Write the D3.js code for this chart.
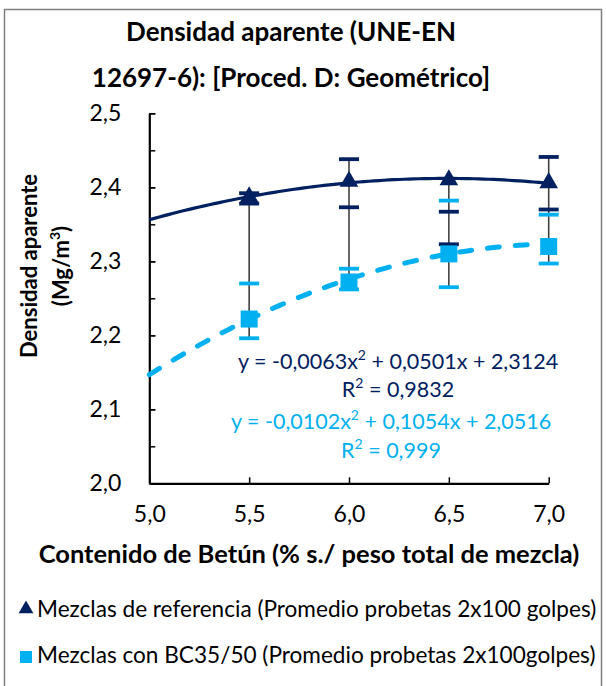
<!DOCTYPE html>
<html>
<head>
<meta charset="utf-8">
<script src="https://cdn.jsdelivr.net/npm/d3@7"></script>
<style>
  html, body { margin: 0; padding: 0; background: #fff; }
  svg { display: block; font-family: Lato, "Open Sans", sans-serif; }
</style>
</head>
<body>
<svg id="chart" width="606" height="686"></svg>
<script>
// Bitumen content categories (% over total mix weight)
const categories = [5.0, 5.5, 6.0, 6.5, 7.0];
const xTickLabels = ["5,0", "5,5", "6,0", "6,5", "7,0"];
const yTickValues = [2.0, 2.1, 2.2, 2.3, 2.4, 2.5];
const yTickLabels = ["2,0", "2,1", "2,2", "2,3", "2,4", "2,5"];

// Mean bulk density (Mg/m3); no specimens at 5,0 %
const refValues = [null, 2.387, 2.408, 2.410, 2.406];
const bcValues  = [null, 2.222, 2.272, 2.310, 2.320];

// Error bar caps per category [upper, lower]
const refCaps = [null, [2.392, 2.378], [2.438, 2.373], [2.367, 2.323], [2.441, 2.370]];
const bcCaps  = [null, [2.270, 2.196], [2.290, 2.262], [2.382, 2.265], [2.363, 2.297]];

// Polynomial trendlines (a x^2 + b x + c, x = category order 1..5)
const refTrend = [-0.0063, 0.0501, 2.3124];
const bcTrend  = [-0.0102, 0.1054, 2.0516];
const refTrendLabel = ["y = -0,0063x", " + 0,0501x + 2,3124", "R", " = 0,9832"];
const bcTrendLabel  = ["y = -0,0102x", " + 0,1054x + 2,0516", "R", " = 0,999"];

const titleLines = ["Densidad aparente (UNE-EN", "12697-6): [Proced. D: Geométrico]"];
const xTitle = "Contenido de Betún (% s./ peso total de mezcla)";
const legendLabels = [
  "Mezclas de referencia (Promedio probetas 2x100 golpes)",
  "Mezclas con BC35/50 (Promedio probetas 2x100golpes)"
];

const NAVY = "#002060";
const CYAN = "#00B0F0";

const svg = d3.select("#chart");

// chart frame
svg.append("rect")
  .attr("x", 4.5).attr("y", 9.5).attr("width", 597).attr("height", 700)
  .attr("fill", "none").attr("stroke", "#7f7f7f").attr("stroke-width", 1.5);

const x = d3.scaleLinear().domain([5.0, 7.0]).range([149.3, 548.7]);
const y = d3.scaleLinear().domain([2.0, 2.5]).range([483.3, 113.3]);

// title
svg.append("g").selectAll("text").data(titleLines).join("text")
  .attr("x", 291).attr("y", (d, i) => 41 + i * 46)
  .attr("text-anchor", "middle")
  .attr("font-weight", "bold").attr("font-size", 26)
  .attr("fill", "#000")
  .text(d => d);

// y axis (minor + major ticks pointing inward)
const yMinor = d3.range(2.0, 2.5001, 0.05);
svg.append("g").attr("transform", `translate(${x(5.0)},0)`)
  .call(d3.axisLeft(y).tickValues(yMinor).tickSizeInner(-6).tickSizeOuter(0).tickFormat(""))
  .call(g => g.select(".domain").remove())
  .call(g => g.selectAll("line").attr("stroke", "#000").attr("stroke-width", 1.5));

const yAxis = svg.append("g").attr("transform", `translate(${x(5.0)},0)`)
  .call(d3.axisLeft(y).tickValues(yTickValues).tickSizeInner(-6).tickSizeOuter(0)
    .tickPadding(28).tickFormat((d, i) => yTickLabels[i]));
yAxis.select(".domain").attr("stroke", "#000").attr("stroke-width", 2.2);
yAxis.selectAll("line").attr("stroke", "#000").attr("stroke-width", 1.5);
yAxis.selectAll("text").attr("font-size", 23).attr("fill", "#000")
  .attr("font-family", "Lato, sans-serif");

// x axis
const xAxis = svg.append("g").attr("transform", `translate(0,${y(2.0)})`)
  .call(d3.axisBottom(x).tickValues(categories).tickSizeInner(-6).tickSizeOuter(0)
    .tickPadding(22).tickFormat((d, i) => xTickLabels[i]));
xAxis.select(".domain").attr("stroke", "#000").attr("stroke-width", 2.2);
xAxis.selectAll("line").attr("stroke", "#000").attr("stroke-width", 1.5);
xAxis.selectAll("text").attr("font-size", 23).attr("fill", "#000")
  .attr("font-family", "Lato, sans-serif");

// axis titles
svg.append("text")
  .attr("x", 309).attr("y", 563)
  .attr("text-anchor", "middle").attr("font-weight", "bold").attr("font-size", 25.5)
  .text(xTitle);

const yTitle = svg.append("text")
  .attr("transform", "translate(0,266) rotate(-90)")
  .attr("text-anchor", "middle").attr("font-weight", "bold").attr("font-size", 22);
yTitle.append("tspan").attr("x", 0).attr("y", 37).text("Densidad aparente");
const yt2 = yTitle.append("tspan").attr("x", 0).attr("y", 69);
yt2.append("tspan").text("(Mg/m");
yt2.append("tspan").attr("font-size", 14).attr("dy", -9).text("3");
yt2.append("tspan").attr("dy", 9).text(")");

// trendlines
const catX = i => categories[0] + (i - 1) * (categories[1] - categories[0]);
function trendPoints(coef) {
  const pts = [];
  for (let t = 1; t <= 5.0001; t += 0.05) {
    pts.push([catX(t), coef[0] * t * t + coef[1] * t + coef[2]]);
  }
  return pts;
}
const line = d3.line().x(d => x(d[0])).y(d => y(d[1])).curve(d3.curveLinear);

svg.append("path").datum(trendPoints(bcTrend))
  .attr("d", line).attr("fill", "none")
  .attr("stroke", CYAN).attr("stroke-width", 5)
  .attr("stroke-linecap", "round").attr("stroke-dasharray", "12,16");

svg.append("path").datum(trendPoints(refTrend))
  .attr("d", line).attr("fill", "none")
  .attr("stroke", NAVY).attr("stroke-width", 3.2);

// error bars: whisker spans all caps and means of a category
const idx = d3.range(1, categories.length);
const errG = svg.append("g");
errG.selectAll("line.whisker").data(idx).join("line")
  .attr("class", "whisker")
  .attr("x1", i => x(categories[i])).attr("x2", i => x(categories[i]))
  .attr("y1", i => y(d3.max([...refCaps[i], ...bcCaps[i], refValues[i], bcValues[i]])))
  .attr("y2", i => y(d3.min([...refCaps[i], ...bcCaps[i], refValues[i], bcValues[i]])))
  .attr("stroke", "#404040").attr("stroke-width", 1.6);

function drawCaps(caps, color) {
  const data = [];
  idx.forEach(i => caps[i].forEach(v => data.push({ c: categories[i], v })));
  errG.append("g").selectAll("line").data(data).join("line")
    .attr("x1", d => x(d.c) - 10).attr("x2", d => x(d.c) + 10)
    .attr("y1", d => y(d.v)).attr("y2", d => y(d.v))
    .attr("stroke", color).attr("stroke-width", 3.8);
}
drawCaps(bcCaps, CYAN);
drawCaps(refCaps, NAVY);

// markers
const tri = d3.symbol().type(d3.symbolTriangle).size(150);
svg.append("g").selectAll("path").data(idx).join("path")
  .attr("transform", i => `translate(${x(categories[i])},${y(refValues[i])})`)
  .attr("d", tri).attr("fill", NAVY);

svg.append("g").selectAll("rect").data(idx).join("rect")
  .attr("x", i => x(categories[i]) - 8.5).attr("y", i => y(bcValues[i]) - 8.5)
  .attr("width", 17).attr("height", 17).attr("fill", CYAN);

// trendline equations
function equation(lbl, color, cx, y1, y2) {
  const t1 = svg.append("text").attr("x", cx).attr("y", y1)
    .attr("text-anchor", "middle").attr("font-size", 21.5).attr("fill", color);
  t1.append("tspan").text(lbl[0]);
  t1.append("tspan").attr("font-size", 14).attr("dy", -9).text("2");
  t1.append("tspan").attr("dy", 9).text(lbl[1]);
  const t2 = svg.append("text").attr("x", cx).attr("y", y2)
    .attr("text-anchor", "middle").attr("font-size", 21.5).attr("fill", color);
  t2.append("tspan").text(lbl[2]);
  t2.append("tspan").attr("font-size", 14).attr("dy", -9).text("2");
  t2.append("tspan").attr("dy", 9).text(lbl[3]);
}
equation(refTrendLabel, NAVY, 398, 369, 397);
equation(bcTrendLabel, CYAN, 391, 429, 458);

// legend
const legend = svg.append("g");
legend.append("path").attr("transform", "translate(26,609)")
  .attr("d", d3.symbol().type(d3.symbolTriangle).size(95)).attr("fill", NAVY);
legend.append("rect").attr("x", 20).attr("y", 651).attr("width", 12).attr("height", 12).attr("fill", CYAN);
legend.selectAll("text").data(legendLabels).join("text")
  .attr("x", 37).attr("y", (d, i) => 617 + i * 46)
  .attr("font-size", 22.6).attr("fill", "#000")
  .text(d => d);
</script>
</body>
</html>
